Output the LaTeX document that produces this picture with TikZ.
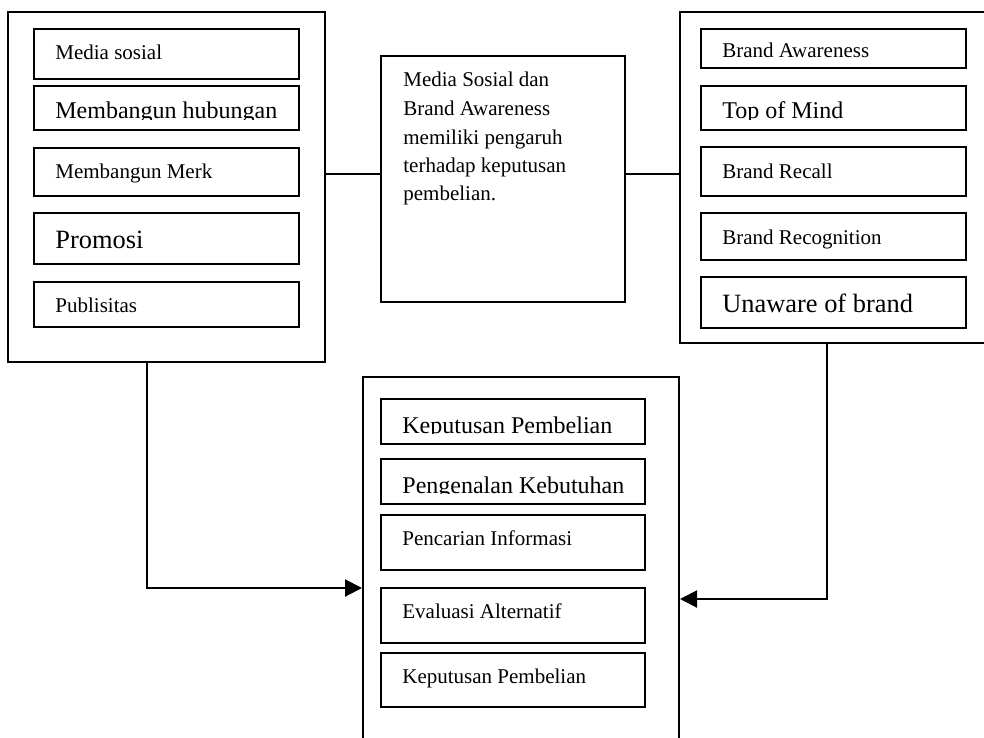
\documentclass[tikz,border=0pt]{standalone}
\usepackage{fontspec}
\setmainfont{Liberation Serif}
\usetikzlibrary{arrows.meta,fit}
\tikzset {>={Triangle[length=8.5pt,width=8.5pt]}}
\newcommand\itemS{\fontsize{10.5}{14.25}\selectfont}
\newcommand\itemM{\fontsize{12}{14}\selectfont}
\newcommand\itemL{\fontsize{13.2}{15}\selectfont}

\begin{document}
\begin{tikzpicture}[x=0.5pt,y=-0.5pt,
  outerbox/.style={draw,line width=1pt,inner sep=0pt,fit={#1}},
  itembox/.style={draw,line width=1pt,inner sep=0pt,fit={#1}},
  itemtext/.style={anchor=base west,inner sep=0pt},
  link/.style={line width=1pt}]
\useasboundingbox (0,0) rectangle (984,738);
\clip (0,0) rectangle (984,738);
\node[outerbox={(8,12) (325,362)}] (media) {};
\foreach \ya/\yb/\yc/\yt/\fnt/\lbl [count=\i] in {%
  29/79/79/60/\itemS/Media sosial,
  86/130/119.3/118.3/\itemM/Membangun hubungan,
  148/196/196/178/\itemS/Membangun Merk,
  213/264/264/248/\itemL/Promosi,
  282/327/327/312/\itemS/Publisitas}
{
  \node[itembox={(34,\ya) (299,\yb)}] (media-\i) {};
  \begin{scope}
    \clip (34,\ya) rectangle (299,\yc);
    \node[itemtext,font=\fnt] (media-\i-text) at (55,\yt) {\lbl};
  \end{scope}
}
\node[outerbox={(381,56) (625,302)}] (summary) {};
\node[itemtext,font=\itemS,text width=95pt,align=flush left] (summary-text)
  at (403,87) {Media Sosial dan\\Brand Awareness\\memiliki pengaruh\\
  terhadap keputusan\\pembelian.};
\node[outerbox={(680,12) (1000,343)}] (awareness) {};
\foreach \ya/\yb/\yc/\yt/\fnt/\lbl [count=\i] in {%
  29/68/57.5/58/\itemS/Brand Awareness,
  86/130/119.5/119/\itemM/Top of Mind,
  147/196/196/178/\itemS/Brand Recall,
  213/260/260/244.5/\itemS/Brand Recognition,
  277/328/328/312.7/\itemL/Unaware of brand}
{
  \node[itembox={(701,\ya) (966,\yb)}] (awareness-\i) {};
  \begin{scope}
    \clip (701,\ya) rectangle (966,\yc);
    \node[itemtext,font=\fnt] (awareness-\i-text) at (722,\yt) {\lbl};
  \end{scope}
}
\node[outerbox={(363,377) (679,760)}] (decision) {};
\foreach \ya/\yb/\yc/\yt/\fnt/\lbl [count=\i] in {%
  399/444/433.5/433/\itemM/Keputusan Pembelian,
  459/504/493.5/493/\itemM/Pengenalan Kebutuhan,
  515/570/570/545/\itemS/Pencarian Informasi,
  588/643/643/618/\itemS/Evaluasi Alternatif,
  653/707/707/683/\itemS/Keputusan Pembelian}
{
  \node[itembox={(381,\ya) (645,\yb)}] (decision-\i) {};
  \begin{scope}
    \clip (381,\ya) rectangle (645,\yc);
    \node[itemtext,font=\fnt] (decision-\i-text) at (402,\yt) {\lbl};
  \end{scope}
}
\draw[link] (media.east |- 0,174) -- (summary.west |- 0,174);
\draw[link] (summary.east |- 0,174) -- (awareness.west |- 0,174);
\draw[link,->] (147,0 |- media.south) |- (decision.west |- 0,588);
\draw[link,->] (827,0 |- awareness.south) |- (decision.east |- 0,599);
\end{tikzpicture}
\end{document}
